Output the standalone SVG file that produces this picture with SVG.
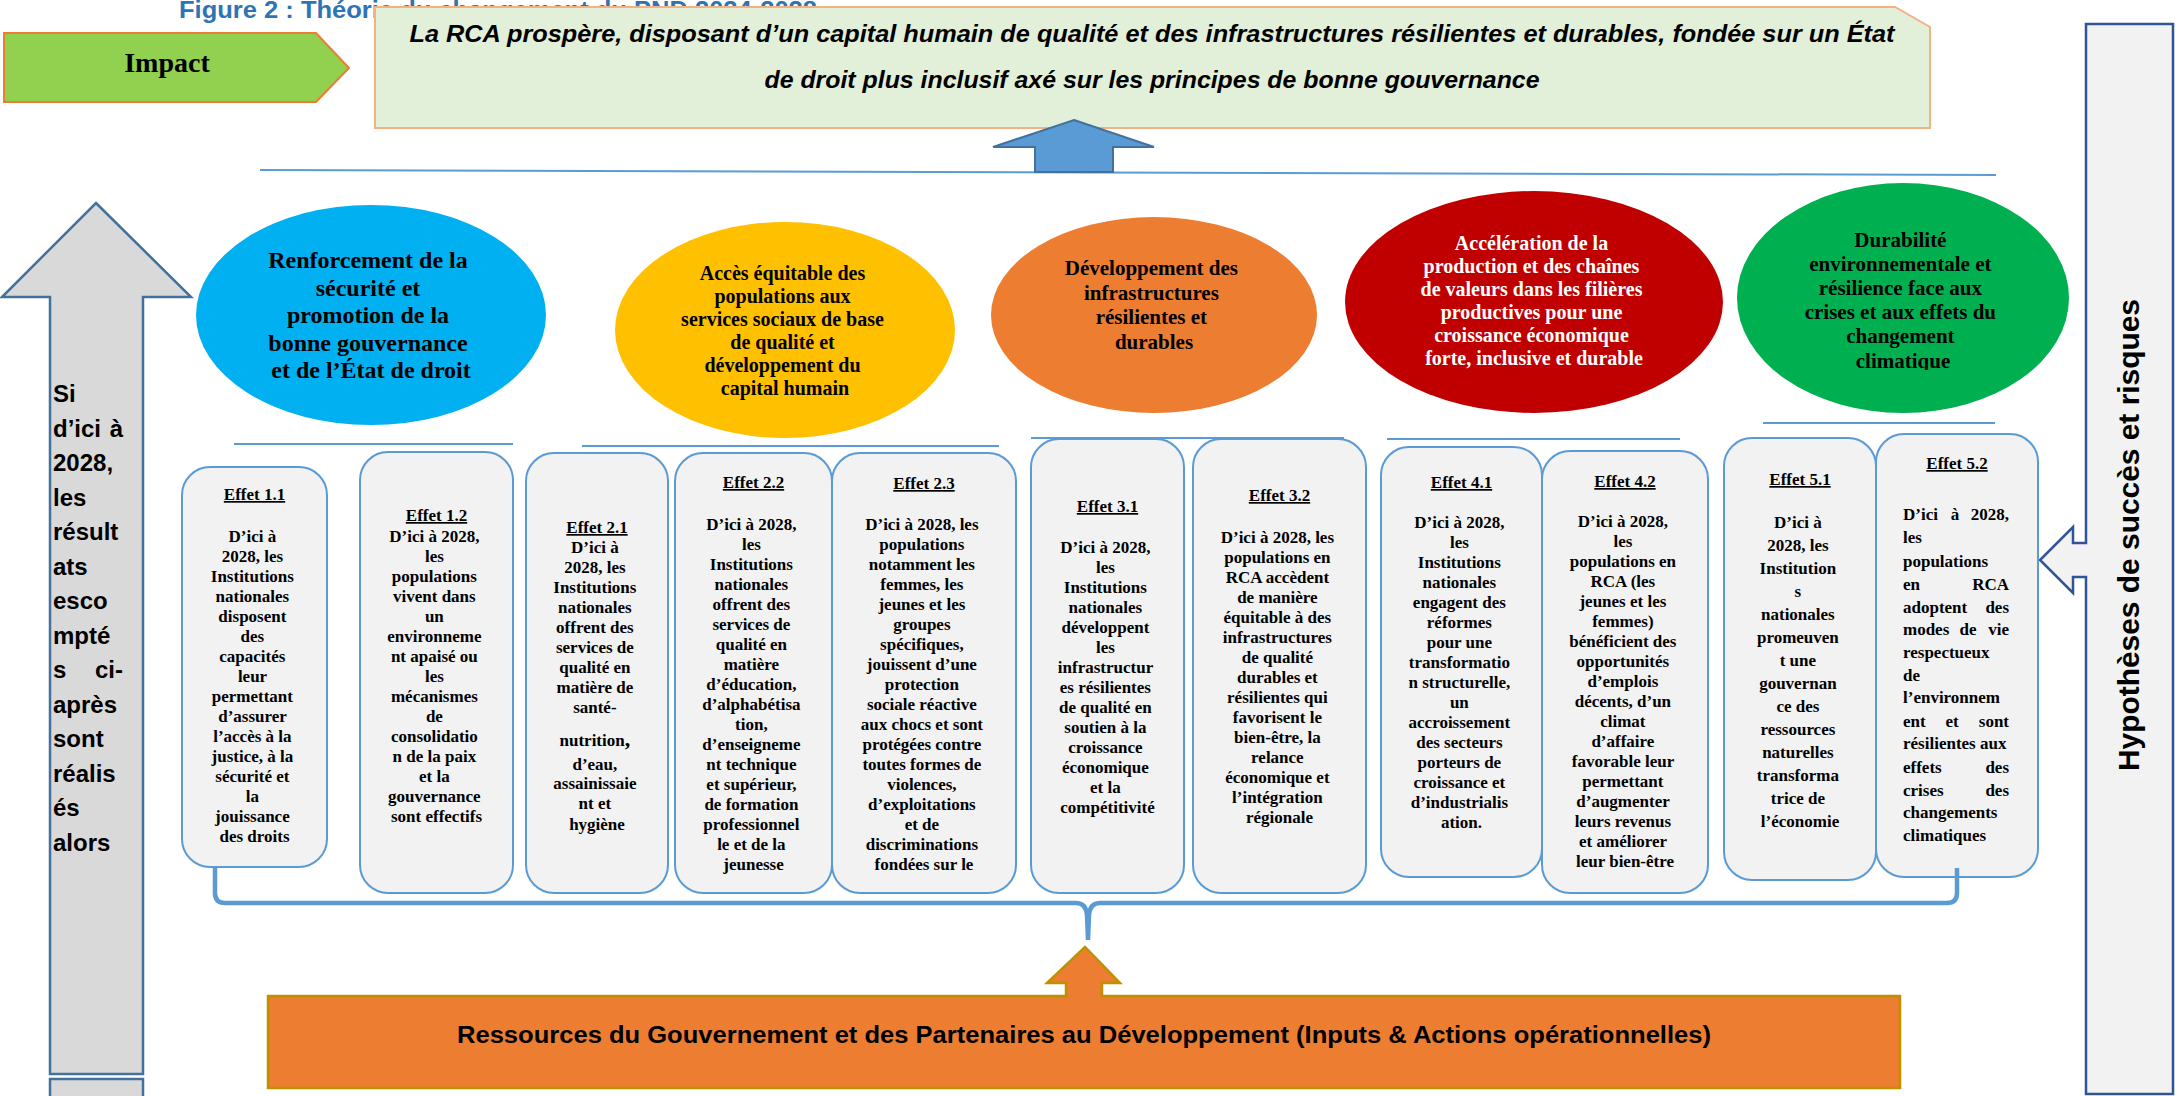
<svg xmlns="http://www.w3.org/2000/svg" width="2179" height="1096" viewBox="0 0 2179 1096">
<defs>
<style>
.box{fill:#F2F2F2;stroke:#5B9BD5;stroke-width:2}
.sep{stroke:#5B9BD5;stroke-width:2;fill:none}
.t{font-family:"Liberation Serif","Times New Roman",serif;font-weight:bold;fill:#000;text-anchor:middle}
.e{font-family:"Liberation Serif","Times New Roman",serif;font-weight:bold;font-size:17px;fill:#000;text-anchor:middle}
.eh{text-decoration:underline}
.s{font-family:"Liberation Sans",Arial,sans-serif;font-weight:bold;fill:#000}
.j{font-family:"Liberation Serif","Times New Roman",serif;font-weight:bold;font-size:17px;fill:#000}
</style>
<clipPath id="clipGreen"><rect x="1700" y="150" width="400" height="220"/></clipPath>
</defs>
<rect width="2179" height="1096" fill="#FFFFFF"/>

<text x="179" y="18" font-family="Liberation Sans, Arial, sans-serif" font-weight="bold" font-size="23" fill="#2E74B5" textLength="638" lengthAdjust="spacingAndGlyphs">Figure 2 : Théorie du changement du PND 2024-2028</text>

<g id="impact-label">
<polygon points="4,33 316,33 349,68 316,102 4,102" fill="#92D050" stroke="#ED7D31" stroke-width="2"/>
<text class="t" x="167" y="72" font-size="28">Impact</text>
</g>

<g id="impact">
<path d="M375,7 L1895,7 L1930,27 L1930,128 L375,128 Z" fill="#E2EFD9" stroke="#F4B183" stroke-width="2"/>
<text x="1152" y="42" font-family="Liberation Sans, Arial, sans-serif" font-weight="bold" font-style="italic" font-size="23" text-anchor="middle" textLength="1485" lengthAdjust="spacingAndGlyphs">La RCA prospère, disposant d’un capital humain de qualité et des infrastructures résilientes et durables, fondée sur un État</text>
<text x="1152" y="88" font-family="Liberation Sans, Arial, sans-serif" font-weight="bold" font-style="italic" font-size="23" text-anchor="middle" textLength="775" lengthAdjust="spacingAndGlyphs">de droit plus inclusif axé sur les principes de bonne gouvernance</text>
</g>

<g id="left-arrow">
<polygon points="96,203 191,297 143,297 143,1074 50,1074 50,297 2,297" fill="#D9D9D9" stroke="#41719C" stroke-width="2.5"/>
<rect x="50" y="1079" width="93" height="22" fill="#D9D9D9" stroke="#41719C" stroke-width="2.5"/>
<g class="s" font-size="24">
<text x="53" y="402">Si</text>
<text x="53" y="437">d’ici</text><text x="123" y="437" text-anchor="end">à</text>
<text x="53" y="471">2028,</text>
<text x="53" y="506">les</text>
<text x="53" y="540">résult</text>
<text x="53" y="575">ats</text>
<text x="53" y="609">esco</text>
<text x="53" y="644">mpté</text>
<text x="53" y="678">s</text><text x="123" y="678" text-anchor="end">ci-</text>
<text x="53" y="713">après</text>
<text x="53" y="747">sont</text>
<text x="53" y="782">réalis</text>
<text x="53" y="816">és</text>
<text x="53" y="851">alors</text>
</g>
</g>

<g id="hypotheses">
<path d="M2086,24 L2173,24 L2173,1094 L2086,1094 L2086,577 L2073,577 L2073,593 L2040,560 L2073,527 L2073,543 L2086,543 Z" fill="#F2F2F2" stroke="#2F5597" stroke-width="2.5"/>
<text class="s" transform="translate(2139,535) rotate(-90)" x="0" y="0" font-size="30" text-anchor="middle" textLength="472" lengthAdjust="spacingAndGlyphs">Hypothèses de succès et risques</text>
</g>

<g id="axe1">
<ellipse cx="371" cy="315" rx="175" ry="110" fill="#00B0F0"/>
<text class="t" font-size="24">
<tspan x="371" y="268">Renforcement de la</tspan>
<tspan x="371" y="295.5">sécurité et</tspan>
<tspan x="371" y="323">promotion de la</tspan>
<tspan x="371" y="350.5">bonne gouvernance</tspan>
<tspan x="371" y="378">et de l’État de droit</tspan>
</text>
</g>

<g id="axe2">
<ellipse cx="785" cy="330" rx="170" ry="108" fill="#FFC000"/>
<text class="t" font-size="20">
<tspan x="785" y="280">Accès équitable des</tspan>
<tspan x="785" y="303">populations aux</tspan>
<tspan x="785" y="326">services sociaux de base</tspan>
<tspan x="785" y="349">de qualité et</tspan>
<tspan x="785" y="372">développement du</tspan>
<tspan x="785" y="395">capital humain</tspan>
</text>
</g>

<g id="axe3">
<ellipse cx="1154" cy="315" rx="163" ry="98" fill="#ED7D31"/>
<text class="t" font-size="21">
<tspan x="1154" y="275">Développement des</tspan>
<tspan x="1154" y="299.5">infrastructures</tspan>
<tspan x="1154" y="324">résilientes et</tspan>
<tspan x="1154" y="348.5">durables</tspan>
</text>
</g>

<g id="axe4">
<ellipse cx="1534" cy="302" rx="189" ry="111" fill="#C00000"/>
<text class="t" font-size="20" style="fill:#FFFFFF">
<tspan x="1534" y="250">Accélération de la</tspan>
<tspan x="1534" y="273">production et des chaînes</tspan>
<tspan x="1534" y="296">de valeurs dans les filières</tspan>
<tspan x="1534" y="319">productives pour une</tspan>
<tspan x="1534" y="342">croissance économique</tspan>
<tspan x="1534" y="365">forte, inclusive et durable</tspan>
</text>
</g>

<g id="axe5">
<ellipse cx="1903" cy="298" rx="166" ry="115" fill="#00B050"/>
<text class="t" font-size="21" clip-path="url(#clipGreen)">
<tspan x="1903" y="247">Durabilité</tspan>
<tspan x="1903" y="271">environnementale et</tspan>
<tspan x="1903" y="295">résilience face aux</tspan>
<tspan x="1903" y="319">crises et aux effets du</tspan>
<tspan x="1903" y="343">changement</tspan>
<tspan x="1903" y="368">climatique</tspan>
</text>
</g>

<g id="separators">
<line class="sep" x1="260" y1="170" x2="1996" y2="175"/>
<line class="sep" x1="234" y1="444" x2="513" y2="444"/>
<line class="sep" x1="582" y1="446" x2="999" y2="446"/>
<line class="sep" x1="1031" y1="438" x2="1344" y2="438"/>
<line class="sep" x1="1387" y1="439" x2="1680" y2="439"/>
<line class="sep" x1="1763" y1="423" x2="1995" y2="423"/>
</g>

<g id="effet-1-1">
<rect class="box" x="182" y="467" width="145" height="400" rx="28" ry="28"/>
<text class="e"><tspan class="eh" x="254.5" y="500">Effet 1.1</tspan></text>
<text class="e">
<tspan x="254.5" y="542">D’ici à</tspan>
<tspan x="254.5" dy="20">2028, les</tspan>
<tspan x="254.5" dy="20">Institutions</tspan>
<tspan x="254.5" dy="20">nationales</tspan>
<tspan x="254.5" dy="20">disposent</tspan>
<tspan x="254.5" dy="20">des</tspan>
<tspan x="254.5" dy="20">capacités</tspan>
<tspan x="254.5" dy="20">leur</tspan>
<tspan x="254.5" dy="20">permettant</tspan>
<tspan x="254.5" dy="20">d’assurer</tspan>
<tspan x="254.5" dy="20">l’accès à la</tspan>
<tspan x="254.5" dy="20">justice, à la</tspan>
<tspan x="254.5" dy="20">sécurité et</tspan>
<tspan x="254.5" dy="20">la</tspan>
<tspan x="254.5" dy="20">jouissance</tspan>
<tspan x="254.5" dy="20">des droits</tspan>
</text>
</g>

<g id="effet-1-2">
<rect class="box" x="360" y="452" width="153" height="441" rx="28" ry="28"/>
<text class="e" font-size="20"><tspan class="eh" x="436.5" y="521">Effet 1.2</tspan></text>
<text class="e">
<tspan x="436.5" y="542">D’ici à 2028,</tspan>
<tspan x="436.5" dy="20">les</tspan>
<tspan x="436.5" dy="20">populations</tspan>
<tspan x="436.5" dy="20">vivent dans</tspan>
<tspan x="436.5" dy="20">un</tspan>
<tspan x="436.5" dy="20">environneme</tspan>
<tspan x="436.5" dy="20">nt apaisé ou</tspan>
<tspan x="436.5" dy="20">les</tspan>
<tspan x="436.5" dy="20">mécanismes</tspan>
<tspan x="436.5" dy="20">de</tspan>
<tspan x="436.5" dy="20">consolidatio</tspan>
<tspan x="436.5" dy="20">n de la paix</tspan>
<tspan x="436.5" dy="20">et la</tspan>
<tspan x="436.5" dy="20">gouvernance</tspan>
<tspan x="436.5" dy="20">sont effectifs</tspan>
</text>
</g>

<g id="effet-2-1">
<rect class="box" x="526" y="453" width="142" height="440" rx="28" ry="28"/>
<text class="e" font-size="20"><tspan class="eh" x="597" y="533">Effet 2.1</tspan></text>
<text class="e">
<tspan x="597" y="553">D’ici à</tspan>
<tspan x="597" dy="20">2028, les</tspan>
<tspan x="597" dy="20">Institutions</tspan>
<tspan x="597" dy="20">nationales</tspan>
<tspan x="597" dy="20">offrent des</tspan>
<tspan x="597" dy="20">services de</tspan>
<tspan x="597" dy="20">qualité en</tspan>
<tspan x="597" dy="20">matière de</tspan>
<tspan x="597" dy="20">santé-</tspan>
<tspan x="597" y="746">nutrition<tspan font-size="22">,</tspan></tspan>
<tspan x="597" y="770">d’eau,</tspan>
<tspan x="597" y="789">assainissaie</tspan>
<tspan x="597" y="809">nt et</tspan>
<tspan x="597" y="830">hygiène</tspan>
</text>
</g>

<g id="effet-2-2">
<rect class="box" x="675" y="453" width="157" height="440" rx="28" ry="28"/>
<text class="e"><tspan class="eh" x="753.5" y="488">Effet 2.2</tspan></text>
<text class="e">
<tspan x="753.5" y="530">D’ici à 2028,</tspan>
<tspan x="753.5" dy="20">les</tspan>
<tspan x="753.5" dy="20">Institutions</tspan>
<tspan x="753.5" dy="20">nationales</tspan>
<tspan x="753.5" dy="20">offrent des</tspan>
<tspan x="753.5" dy="20">services de</tspan>
<tspan x="753.5" dy="20">qualité en</tspan>
<tspan x="753.5" dy="20">matière</tspan>
<tspan x="753.5" dy="20">d’éducation,</tspan>
<tspan x="753.5" dy="20">d’alphabétisa</tspan>
<tspan x="753.5" dy="20">tion,</tspan>
<tspan x="753.5" dy="20">d’enseigneme</tspan>
<tspan x="753.5" dy="20">nt technique</tspan>
<tspan x="753.5" dy="20">et supérieur,</tspan>
<tspan x="753.5" dy="20">de formation</tspan>
<tspan x="753.5" dy="20">professionnel</tspan>
<tspan x="753.5" dy="20">le et de la</tspan>
<tspan x="753.5" dy="20">jeunesse</tspan>
</text>
</g>

<g id="effet-2-3">
<rect class="box" x="832" y="453" width="184" height="440" rx="28" ry="28"/>
<text class="e"><tspan class="eh" x="924" y="489">Effet 2.3</tspan></text>
<text class="e">
<tspan x="924" y="530">D’ici à 2028, les</tspan>
<tspan x="924" dy="20">populations</tspan>
<tspan x="924" dy="20">notamment les</tspan>
<tspan x="924" dy="20">femmes, les</tspan>
<tspan x="924" dy="20">jeunes et les</tspan>
<tspan x="924" dy="20">groupes</tspan>
<tspan x="924" dy="20">spécifiques,</tspan>
<tspan x="924" dy="20">jouissent d’une</tspan>
<tspan x="924" dy="20">protection</tspan>
<tspan x="924" dy="20">sociale réactive</tspan>
<tspan x="924" dy="20">aux chocs et sont</tspan>
<tspan x="924" dy="20">protégées contre</tspan>
<tspan x="924" dy="20">toutes formes de</tspan>
<tspan x="924" dy="20">violences,</tspan>
<tspan x="924" dy="20">d’exploitations</tspan>
<tspan x="924" dy="20">et de</tspan>
<tspan x="924" dy="20">discriminations</tspan>
<tspan x="924" dy="20">fondées sur le</tspan>
</text>
</g>

<g id="effet-3-1">
<rect class="box" x="1031" y="439" width="153" height="454" rx="28" ry="28"/>
<text class="e"><tspan class="eh" x="1107.5" y="512">Effet 3.1</tspan></text>
<text class="e">
<tspan x="1107.5" y="553">D’ici à 2028,</tspan>
<tspan x="1107.5" dy="20">les</tspan>
<tspan x="1107.5" dy="20">Institutions</tspan>
<tspan x="1107.5" dy="20">nationales</tspan>
<tspan x="1107.5" dy="20">développent</tspan>
<tspan x="1107.5" dy="20">les</tspan>
<tspan x="1107.5" dy="20">infrastructur</tspan>
<tspan x="1107.5" dy="20">es résilientes</tspan>
<tspan x="1107.5" dy="20">de qualité en</tspan>
<tspan x="1107.5" dy="20">soutien à la</tspan>
<tspan x="1107.5" dy="20">croissance</tspan>
<tspan x="1107.5" dy="20">économique</tspan>
<tspan x="1107.5" dy="20">et la</tspan>
<tspan x="1107.5" dy="20">compétitivité</tspan>
</text>
</g>

<g id="effet-3-2">
<rect class="box" x="1193" y="439" width="173" height="454" rx="28" ry="28"/>
<text class="e"><tspan class="eh" x="1279.5" y="501">Effet 3.2</tspan></text>
<text class="e">
<tspan x="1279.5" y="543">D’ici à 2028, les</tspan>
<tspan x="1279.5" dy="20">populations en</tspan>
<tspan x="1279.5" dy="20">RCA accèdent</tspan>
<tspan x="1279.5" dy="20">de manière</tspan>
<tspan x="1279.5" dy="20">équitable à des</tspan>
<tspan x="1279.5" dy="20">infrastructures</tspan>
<tspan x="1279.5" dy="20">de qualité</tspan>
<tspan x="1279.5" dy="20">durables et</tspan>
<tspan x="1279.5" dy="20">résilientes qui</tspan>
<tspan x="1279.5" dy="20">favorisent le</tspan>
<tspan x="1279.5" dy="20">bien-être, la</tspan>
<tspan x="1279.5" dy="20">relance</tspan>
<tspan x="1279.5" dy="20">économique et</tspan>
<tspan x="1279.5" dy="20">l’intégration</tspan>
<tspan x="1279.5" dy="20">régionale</tspan>
</text>
</g>

<g id="effet-4-1">
<rect class="box" x="1381" y="447" width="161" height="430" rx="28" ry="28"/>
<text class="e"><tspan class="eh" x="1461.5" y="488">Effet 4.1</tspan></text>
<text class="e">
<tspan x="1461.5" y="528">D’ici à 2028,</tspan>
<tspan x="1461.5" dy="20">les</tspan>
<tspan x="1461.5" dy="20">Institutions</tspan>
<tspan x="1461.5" dy="20">nationales</tspan>
<tspan x="1461.5" dy="20">engagent des</tspan>
<tspan x="1461.5" dy="20">réformes</tspan>
<tspan x="1461.5" dy="20">pour une</tspan>
<tspan x="1461.5" dy="20">transformatio</tspan>
<tspan x="1461.5" dy="20">n structurelle,</tspan>
<tspan x="1461.5" dy="20">un</tspan>
<tspan x="1461.5" dy="20">accroissement</tspan>
<tspan x="1461.5" dy="20">des secteurs</tspan>
<tspan x="1461.5" dy="20">porteurs de</tspan>
<tspan x="1461.5" dy="20">croissance et</tspan>
<tspan x="1461.5" dy="20">d’industrialis</tspan>
<tspan x="1461.5" dy="20">ation.</tspan>
</text>
</g>

<g id="effet-4-2">
<rect class="box" x="1542" y="451" width="166" height="442" rx="28" ry="28"/>
<text class="e"><tspan class="eh" x="1625" y="487">Effet 4.2</tspan></text>
<text class="e">
<tspan x="1625" y="527">D’ici à 2028,</tspan>
<tspan x="1625" dy="20">les</tspan>
<tspan x="1625" dy="20">populations en</tspan>
<tspan x="1625" dy="20">RCA (les</tspan>
<tspan x="1625" dy="20">jeunes et les</tspan>
<tspan x="1625" dy="20">femmes)</tspan>
<tspan x="1625" dy="20">bénéficient des</tspan>
<tspan x="1625" dy="20">opportunités</tspan>
<tspan x="1625" dy="20">d’emplois</tspan>
<tspan x="1625" dy="20">décents, d’un</tspan>
<tspan x="1625" dy="20">climat</tspan>
<tspan x="1625" dy="20">d’affaire</tspan>
<tspan x="1625" dy="20">favorable leur</tspan>
<tspan x="1625" dy="20">permettant</tspan>
<tspan x="1625" dy="20">d’augmenter</tspan>
<tspan x="1625" dy="20">leurs revenus</tspan>
<tspan x="1625" dy="20">et améliorer</tspan>
<tspan x="1625" dy="20">leur bien-être</tspan>
</text>
</g>

<g id="effet-5-1">
<rect class="box" x="1724" y="438" width="152" height="442" rx="28" ry="28"/>
<text class="e" font-size="20"><tspan class="eh" x="1800" y="485">Effet 5.1</tspan></text>
<text class="e" font-size="20">
<tspan x="1800" y="528">D’ici à</tspan>
<tspan x="1800" dy="23">2028, les</tspan>
<tspan x="1800" dy="23">Institution</tspan>
<tspan x="1800" dy="23">s</tspan>
<tspan x="1800" dy="23">nationales</tspan>
<tspan x="1800" dy="23">promeuven</tspan>
<tspan x="1800" dy="23">t une</tspan>
<tspan x="1800" dy="23">gouvernan</tspan>
<tspan x="1800" dy="23">ce des</tspan>
<tspan x="1800" dy="23">ressources</tspan>
<tspan x="1800" dy="23">naturelles</tspan>
<tspan x="1800" dy="23">transforma</tspan>
<tspan x="1800" dy="23">trice de</tspan>
<tspan x="1800" dy="23">l’économie</tspan>
</text>
</g>

<g id="effet-5-2">
<rect class="box" x="1876" y="434" width="162" height="443" rx="28" ry="28"/>
<text class="e"><tspan class="eh" x="1957" y="469">Effet 5.2</tspan></text>
<g class="j">
<text x="1903" y="520">D’ici</text><text x="1955" y="520" text-anchor="middle">à</text><text x="2009" y="520" text-anchor="end">2028,</text>
<text x="1903" y="543">les</text>
<text x="1903" y="567">populations</text>
<text x="1903" y="590">en</text><text x="2009" y="590" text-anchor="end">RCA</text>
<text x="1903" y="613">adoptent</text><text x="2009" y="613" text-anchor="end">des</text>
<text x="1903" y="635">modes</text><text x="1968" y="635" text-anchor="middle">de</text><text x="2009" y="635" text-anchor="end">vie</text>
<text x="1903" y="658">respectueux</text>
<text x="1903" y="681">de</text>
<text x="1903" y="703">l’environnem</text>
<text x="1903" y="727">ent</text><text x="1952" y="727" text-anchor="middle">et</text><text x="2009" y="727" text-anchor="end">sont</text>
<text x="1903" y="749">résilientes aux</text>
<text x="1903" y="773">effets</text><text x="2009" y="773" text-anchor="end">des</text>
<text x="1903" y="796">crises</text><text x="2009" y="796" text-anchor="end">des</text>
<text x="1903" y="818">changements</text>
<text x="1903" y="841">climatiques</text>
</g>
</g>

<g id="connectors">
<polygon points="1074,120 1154,147 1113,147 1113,172 1035,172 1035,147 993,147" fill="#5B9BD5" stroke="#41719C" stroke-width="2"/>
<path d="M215,867 L215,893 Q215,903 225,903 L1076,903 Q1086,903 1087,915 L1088,940 M1088,940 L1089,915 Q1090,903 1100,903 L1947,903 Q1957,903 1957,893 L1957,868" fill="none" stroke="#5B9BD5" stroke-width="4.5" stroke-linejoin="round"/>
</g>

<g id="ressources">
<path d="M268,996 L1066,996 L1066,983 L1047,983 L1085,947 L1120,983 L1102,983 L1102,996 L1900,996 L1900,1088 L268,1088 Z" fill="#ED7D31" stroke="#BF9000" stroke-width="2.5"/>
<text class="s" x="1084" y="1043" font-size="23" text-anchor="middle" textLength="1254" lengthAdjust="spacingAndGlyphs">Ressources du Gouvernement et des Partenaires au Développement (Inputs &amp; Actions opérationnelles)</text>
</g>
</svg>
